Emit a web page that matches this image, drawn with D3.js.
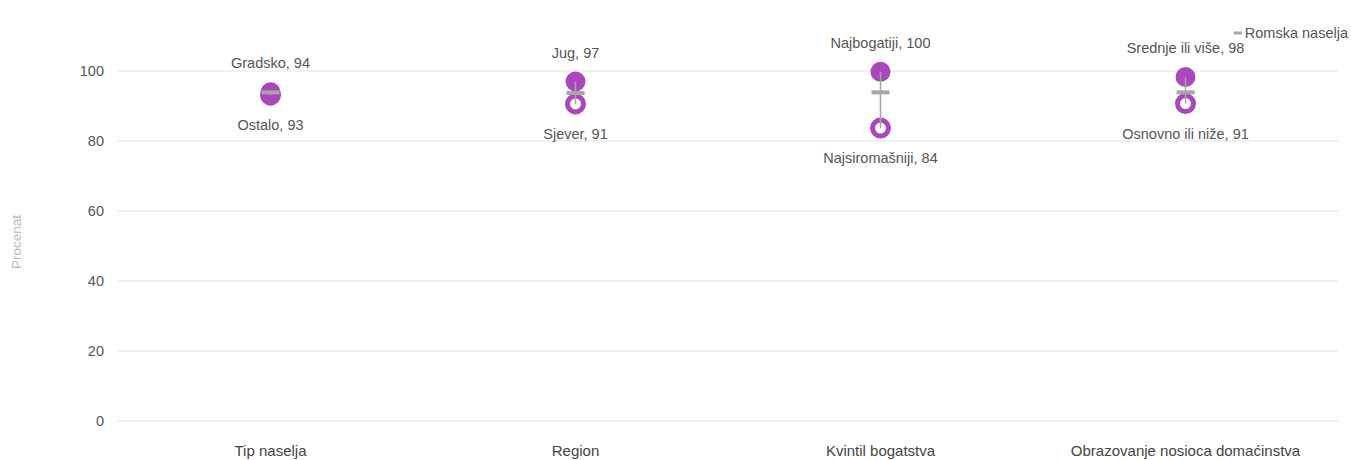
<!DOCTYPE html>
<html lang="sr">
<head>
<meta charset="UTF-8">
<title>Romska naselja</title>
<script src="https://d3js.org/d3.v7.min.js"></script>
<style>
  body { margin: 0; padding: 0; background: #fff; font-family: "Liberation Sans", Arial, sans-serif; }
  .grid line { stroke: #e2e2e2; stroke-width: 1; }
  .tick-label { fill: #555; font-size: 14.5px; }
  .cat-label { fill: #444; font-size: 15px; }
  .pt-label { fill: #555; font-size: 14.5px; }
</style>
</head>
<body>
<div id="chart"></div>
<script>
  // data
  const categories = ["Tip naselja", "Region", "Kvintil bogatstva", "Obrazovanje nosioca domaćinstva"];
  const highNames = ["Gradsko", "Jug", "Najbogatiji", "Srednje ili više"];
  const highValues = [93.9, 97.0, 99.8, 98.3];
  const lowNames = ["Ostalo", "Sjever", "Najsiromašniji", "Osnovno ili niže"];
  const lowValues = [93.1, 90.6, 83.7, 90.7];
  const highLabels = [94, 97, 100, 98];
  const lowLabels = [93, 91, 84, 91];
  const romaValues = [93.9, 93.7, 93.9, 93.9];
  const yTicks = [0, 20, 40, 60, 80, 100];

  const width = 1351, height = 460;
  const purple = "#aa47bc";
  const grey = "#a6a6a6";

  const svg = d3.select("#chart").append("svg")
    .attr("width", width)
    .attr("height", height);

  const x = d3.scaleBand().domain(categories).range([118, 1338]);
  const y = d3.scaleLinear().domain([0, 100]).range([421, 71]);

  // grid
  svg.append("g").attr("class", "grid")
    .selectAll("line").data(yTicks).enter().append("line")
    .attr("x1", 118).attr("x2", 1338)
    .attr("y1", d => y(d)).attr("y2", d => y(d));

  svg.selectAll(".tick-label").data(yTicks).enter().append("text")
    .attr("class", "tick-label")
    .attr("x", 104).attr("y", d => y(d))
    .attr("dy", "0.35em")
    .attr("text-anchor", "end")
    .text(d => d);

  svg.append("text")
    .attr("transform", "translate(16,242) rotate(-90)")
    .attr("text-anchor", "middle")
    .attr("dy", "0.35em")
    .attr("fill", "#bbb")
    .attr("font-size", 13.5)
    .text("Procenat");

  svg.selectAll(".cat-label").data(categories).enter().append("text")
    .attr("class", "cat-label")
    .attr("x", d => x(d) + x.bandwidth() / 2)
    .attr("y", 451)
    .attr("dy", "0.35em")
    .attr("text-anchor", "middle")
    .text(d => d);

  const rows = categories.map((c, i) => ({
    cat: c, hi: highValues[i], lo: lowValues[i],
    hiName: highNames[i], loName: lowNames[i],
    hiLab: highLabels[i], loLab: lowLabels[i], roma: romaValues[i]
  }));
  const cx = d => x(d.cat) + x.bandwidth() / 2;

  // hollow (low) circles
  svg.selectAll(".lo").data(rows).enter().append("circle")
    .attr("class", "lo")
    .attr("cx", cx).attr("cy", d => y(d.lo))
    .attr("r", 8).attr("fill", "#fff")
    .attr("stroke", purple).attr("stroke-width", 5);

  // filled (high) circles
  svg.selectAll(".hi").data(rows).enter().append("circle")
    .attr("class", "hi")
    .attr("cx", cx).attr("cy", d => y(d.hi))
    .attr("r", 10).attr("fill", purple);

  // connector
  svg.selectAll(".conn").data(rows).enter().append("line")
    .attr("class", "conn")
    .attr("x1", cx).attr("x2", cx)
    .attr("y1", d => y(d.hi)).attr("y2", d => y(d.lo))
    .attr("stroke", grey).attr("stroke-width", 1.5);

  // Roma settlements marker
  svg.selectAll(".roma").data(rows).enter().append("rect")
    .attr("class", "roma")
    .attr("x", d => cx(d) - 9).attr("y", d => y(d.roma) - 2)
    .attr("width", 18).attr("height", 4)
    .attr("fill", grey);

  // labels
  svg.selectAll(".hi-lab").data(rows).enter().append("text")
    .attr("class", "pt-label")
    .attr("x", cx).attr("y", d => y(d.hi) - 29)
    .attr("dy", "0.35em").attr("text-anchor", "middle")
    .text(d => d.hiName + ", " + d.hiLab);

  svg.selectAll(".lo-lab").data(rows).enter().append("text")
    .attr("class", "pt-label")
    .attr("x", cx).attr("y", d => y(d.lo) + 30)
    .attr("dy", "0.35em").attr("text-anchor", "middle")
    .text(d => d.loName + ", " + d.loLab);

  // legend
  const lg = svg.append("g").attr("transform", "translate(1348,33)");
  const lgText = lg.append("text").attr("x", 0).attr("dy", "0.35em")
    .attr("text-anchor", "end")
    .attr("font-size", 14.5).attr("fill", "#555")
    .text("Romska naselja");
  const tw = lgText.node().getComputedTextLength();
  lg.append("rect").attr("x", -tw - 11).attr("y", -1.5).attr("width", 8).attr("height", 3).attr("fill", grey);
</script>
</body>
</html>
